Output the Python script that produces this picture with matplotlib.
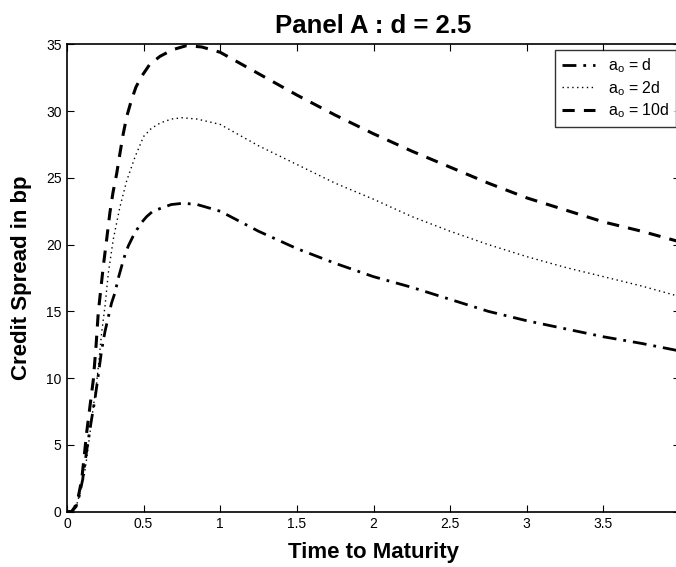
import numpy as np
from matplotlib import pyplot as plt

plt.rcParams['font.family'] = ['Liberation Sans', 'DejaVu Sans']
plt.rcParams['mathtext.fontset'] = 'custom'
plt.rcParams['mathtext.rm'] = 'Liberation Sans'

# values
t_d = [0.0, 0.03, 0.06, 0.08, 0.102, 0.12, 0.139, 0.16, 0.182, 0.205, 0.226, 0.248, 0.27, 0.29,
       0.313, 0.335, 0.357, 0.38, 0.4, 0.43, 0.455, 0.49, 0.52, 0.56, 0.607, 0.68, 0.76, 0.85, 1.0,
       1.25, 1.5, 1.75, 2.0, 2.25, 2.5, 2.75, 3.0, 3.25, 3.5, 3.75, 3.97, 4.0]
s_d = [0.0, 0.0, 0.4, 1.2, 2.4, 3.9, 5.4, 6.9, 8.4, 10.3, 12.1, 13.5, 14.6, 15.6,
       16.4, 17.5, 18.4, 19.3, 19.9, 20.6, 21.1, 21.7, 22.1, 22.5, 22.7, 23.0, 23.1, 23.0, 22.5,
       21.0, 19.7, 18.6, 17.6, 16.8, 15.9, 15.0, 14.3, 13.7, 13.1, 12.6, 12.1, 12.0]

t_2d = [0.0, 0.03, 0.06, 0.08, 0.095, 0.111, 0.13, 0.15, 0.17, 0.193, 0.21, 0.226, 0.248, 0.27,
        0.302, 0.345, 0.39, 0.445, 0.5, 0.55, 0.607, 0.68, 0.75, 0.85, 1.0, 1.25, 1.5, 1.75, 2.0,
        2.25, 2.5, 2.75, 3.0, 3.25, 3.5, 3.75, 3.97, 4.0]
s_2d = [0.0, 0.0, 0.4, 1.2, 1.9, 2.6, 4.1, 5.9, 7.7, 9.6, 11.5, 13.4, 15.4, 17.9,
        20.4, 22.8, 24.8, 26.6, 28.1, 28.7, 29.1, 29.4, 29.5, 29.4, 29.0, 27.4, 26.0, 24.6, 23.4,
        22.1, 21.0, 20.0, 19.1, 18.3, 17.6, 16.9, 16.2, 16.1]

t_10d = [0.0, 0.03, 0.052, 0.075, 0.096, 0.11, 0.128, 0.15, 0.172, 0.19, 0.204, 0.22, 0.237,
         0.26, 0.28, 0.3, 0.324, 0.345, 0.367, 0.39, 0.42, 0.45, 0.487, 0.54, 0.607, 0.69, 0.78,
         0.88, 1.0, 1.25, 1.5, 1.75, 2.0, 2.25, 2.5, 2.75, 3.0, 3.25, 3.5, 3.75, 3.97, 4.0]
s_10d = [0.0, 0.0, 0.37, 1.2, 2.4, 3.9, 5.9, 7.9, 9.9, 12.5, 14.9, 16.6, 18.4,
         20.5, 22.4, 23.9, 25.3, 26.8, 28.3, 29.6, 30.8, 31.8, 32.6, 33.5, 34.1, 34.6, 34.9,
         34.8, 34.4, 32.8, 31.2, 29.7, 28.3, 27.0, 25.8, 24.6, 23.5, 22.6, 21.7, 21.0, 20.3, 20.2]

labels = [r'a$_{\rm o}$ = d', r'a$_{\rm o}$ = 2d', r'a$_{\rm o}$ = 10d']

W, H = 676, 567
fig = plt.figure(figsize=(W / 100, H / 100), dpi=100)
ax = fig.add_axes([67 / W, 1 - 511.7 / H, (680 - 67) / W, (511.7 - 44.3) / H])

ax.plot(t_d, s_d, color='k', lw=2.0, linestyle=(0, (5, 2.5, 1, 2.5)), label=labels[0])
ax.plot(t_2d, s_2d, color='k', lw=1.0, linestyle=(0, (1, 2.5)), label=labels[1])
ax.plot(t_10d, s_10d, color='k', lw=2.2, linestyle=(0, (4, 3)), label=labels[2])

ax.set_xlim(0, 4)
ax.set_ylim(0, 35)
ax.set_xticks([0, 0.5, 1, 1.5, 2, 2.5, 3, 3.5, 4])
ax.set_xticklabels(['0', '0.5', '1', '1.5', '2', '2.5', '3', '3.5', ''])
ax.set_yticks(range(0, 36, 5))
ax.tick_params(direction='in', length=5, width=0.8, top=True, right=True, labelsize=10, pad=4)
for s in ax.spines.values():
    s.set_linewidth(1.2)

ax.set_title('Panel A : d = 2.5', fontsize=18.5, fontweight='bold', pad=8)
ax.set_xlabel('Time to Maturity', fontsize=16, fontweight='bold', labelpad=8)
ax.set_ylabel('Credit Spread in bp', fontsize=16, fontweight='bold', labelpad=10)

leg = ax.legend(loc='upper right', bbox_to_anchor=(676 / W, 1 - 50 / H),
                bbox_transform=fig.transFigure, fontsize=11.5, frameon=True, fancybox=False,
                handlelength=2.1, borderpad=0.4, labelspacing=0.25, handletextpad=0.8,
                borderaxespad=0)
leg.get_frame().set_edgecolor('k')
leg.get_frame().set_linewidth(1.0)

fig.savefig('out.png', dpi=100)
